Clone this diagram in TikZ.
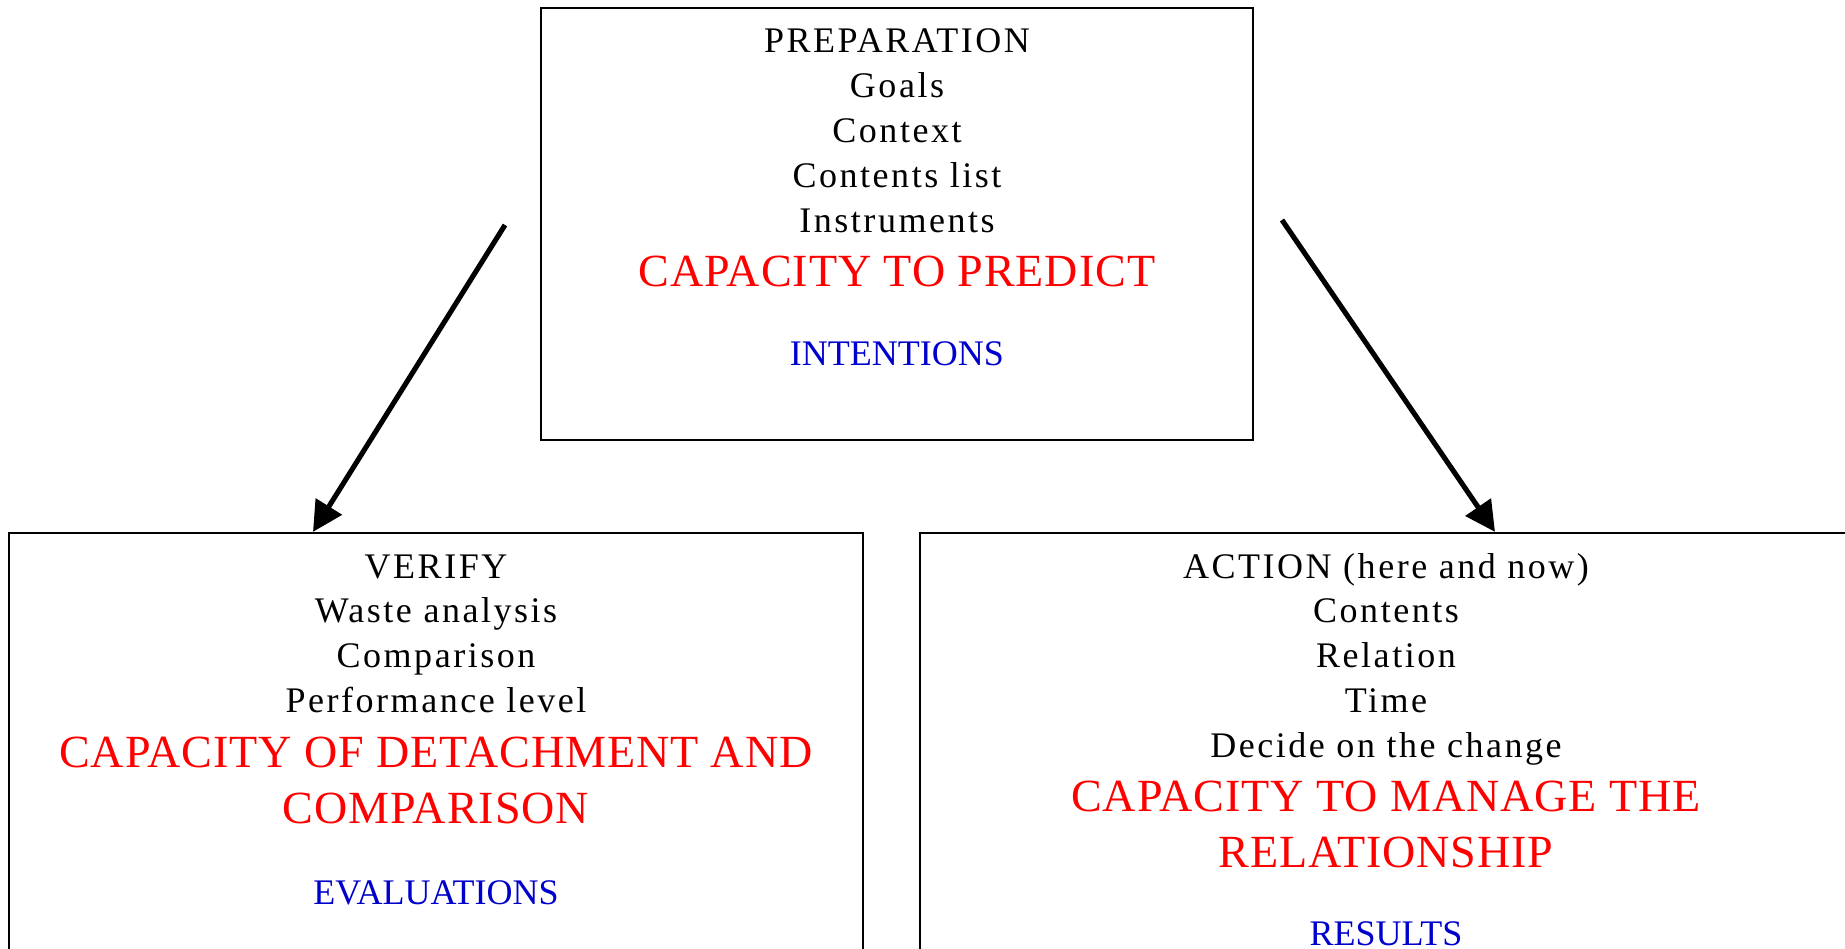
\documentclass[tikz,border=0pt]{standalone}
\usepackage{fontspec}
\setmainfont{Liberation Serif}
\newfontfamily\plainfont[LetterSpace=7]{Liberation Serif}
\newfontfamily\bigfont[LetterSpace=2]{Liberation Serif}
\usepackage{tikz}
\usetikzlibrary{arrows.meta}

\definecolor{capred}{RGB}{255,0,0}
\definecolor{tagblue}{RGB}{0,0,204}

\begin{document}
\begin{tikzpicture}[x=0.01cm,y=-0.01cm,
  box/.style={draw,line width=0.55pt,inner sep=0},
  itemtext/.style={anchor=base,inner sep=0,font=\plainfont\fontsize{10.24pt}{12pt}\selectfont},
  captext/.style={anchor=base,inner sep=0,text=capred,font=\bigfont\fontsize{13.1pt}{15pt}\selectfont},
  tagtext/.style={anchor=base,inner sep=0,text=tagblue,font=\fontsize{10.24pt}{12pt}\selectfont},
  flow/.style={line width=1.45pt,-{Triangle[length=0.3cm,width=0.3cm]}}]

\useasboundingbox (0,0) rectangle (1845,949);

% boxes
\node[box,minimum width=7.12cm,minimum height=4.32cm] (prep) at (897,224) {};
\node[box,minimum width=8.54cm,minimum height=4.67cm] (verify) at (436,766.5) {};
\node[box,minimum width=9.32cm,minimum height=4.67cm] (action) at (1386,766.5) {};

% preparation
\foreach \t [count=\i from 0] in {PREPARATION,Goals,Context,Contents list,Instruments}{%
  \node[itemtext] (p\i) at (897,{53+44.8*\i}) {\t};}
\node[captext] (pcap) at (897,287) {CAPACITY TO PREDICT};
\node[tagtext] (ptag) at (897,366) {INTENTIONS};

% verify
\foreach \t [count=\i from 0] in {VERIFY,Waste analysis,Comparison,Performance level}{%
  \node[itemtext] (v\i) at (436,{578+44.8*\i}) {\t};}
\node[captext] (vcap1) at (436,767) {CAPACITY OF DETACHMENT AND};
\node[captext] (vcap2) at (436,823) {COMPARISON};
\node[tagtext] (vtag) at (436,904) {EVALUATIONS};

% action
\foreach \t [count=\i from 0] in {{ACTION (here and now)},Contents,Relation,Time,Decide on the change}{%
  \node[itemtext] (a\i) at (1386,{578+44.8*\i}) {\t};}
\node[captext] (acap1) at (1386,811) {CAPACITY TO MANAGE THE};
\node[captext] (acap2) at (1386,867) {RELATIONSHIP};
\node[tagtext] (atag) at (1386,945) {RESULTS};

% arrows
\coordinate (l0) at (505,225);
\coordinate (l1) at (313,0);
\coordinate (r0) at (1282,220);
\coordinate (r1) at (1495,0);
\draw[flow] (l0) -- (l1 |- verify.north);
\draw[flow] (r0) -- (r1 |- action.north);
\end{tikzpicture}
\end{document}
